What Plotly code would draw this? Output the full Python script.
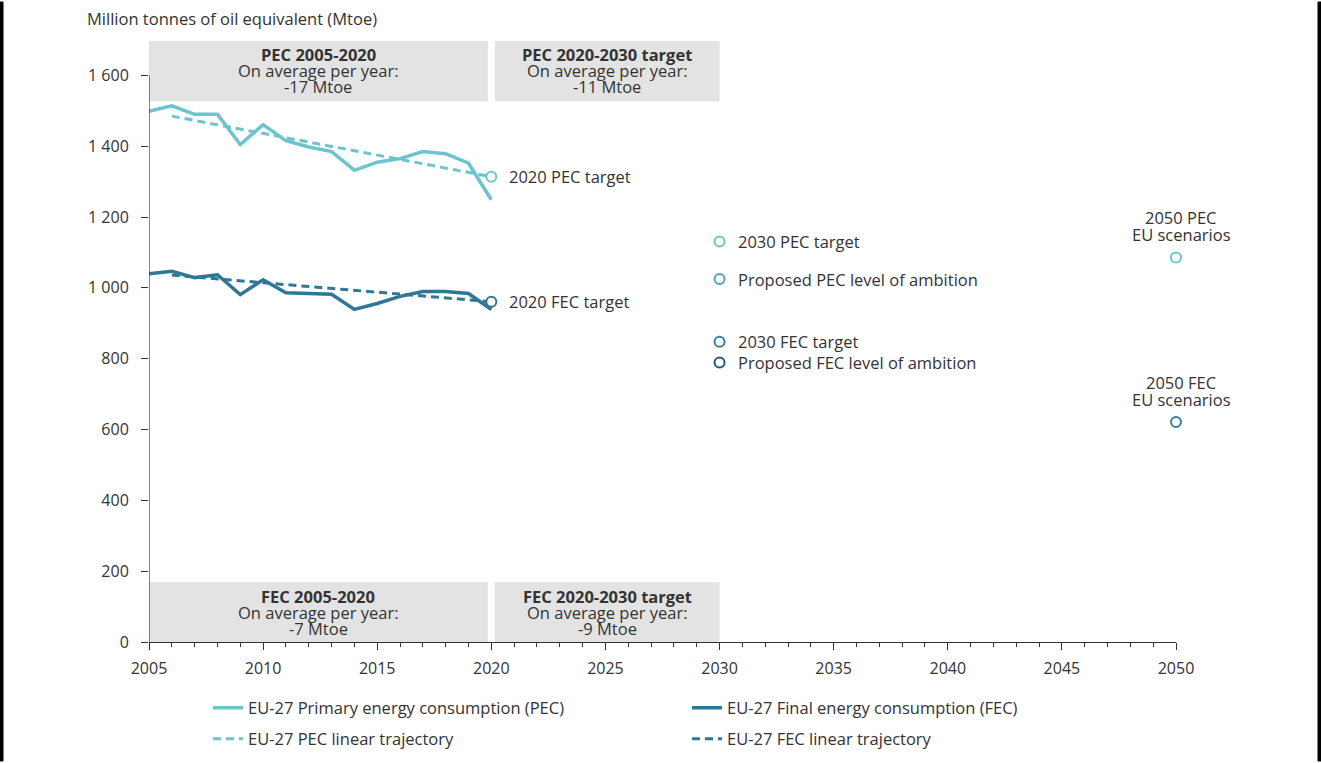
import plotly.graph_objects as go

# ---------------- data ----------------
years = list(range(2005, 2021))
pec_values = [1499, 1514, 1490, 1490, 1405, 1461, 1416, 1398, 1385, 1332, 1355, 1365, 1385, 1379, 1352, 1249]
fec_values = [1040, 1047, 1029, 1037, 981, 1023, 986, 984, 982, 939, 956, 976, 990, 990, 984, 939]

pec_traj_years = [2006, 2020]
pec_traj_values = [1485, 1314]
fec_traj_years = [2006, 2020]
fec_traj_values = [1036, 961]

target_names = ["2020 PEC target", "2020 FEC target", "2030 PEC target",
                "Proposed PEC level of ambition", "2030 FEC target",
                "Proposed FEC level of ambition"]
target_years = [2020, 2020, 2030, 2030, 2030, 2030]
target_values = [1314, 961, 1131, 1025, 848, 789]

scen_names = ["2050 PEC", "2050 FEC"]
scen_years = [2050, 2050]
scen_values = [1086, 621]

y_tick_vals = [0, 200, 400, 600, 800, 1000, 1200, 1400, 1600]
y_tick_text = ["0", "200", "400", "600", "800", "1 000", "1 200", "1 400", "1 600"]
x_tick_vals = [2005, 2010, 2015, 2020, 2025, 2030, 2035, 2040, 2045, 2050]

box_titles = ["PEC 2005-2020", "PEC 2020-2030 target", "FEC 2005-2020", "FEC 2020-2030 target"]
box_values = ["-17 Mtoe", "-11 Mtoe", "-7 Mtoe", "-9 Mtoe"]

# ---------------- style ----------------
C_PEC = "#6cc4cd"
C_FEC = "#2f7697"
C_PPEC = "#4fa3b6"
C_FEC30 = "#3a7ea2"
C_PFEC = "#1f5b7c"
TXT = "#333333"
FONT = "Open Sans"
FS = 16.5
TFS = 16

W, H = 1321, 763
ML, MR, MT, MB = 149, 145, 40, 121
PW, PH = W - ML - MR, H - MT - MB

target_colors = [C_PEC, C_FEC, C_PEC, C_PPEC, C_FEC30, C_PFEC]
scen_colors = [C_PEC, C_FEC30]

fig = go.Figure()

fig.add_trace(go.Scatter(x=years, y=pec_values, mode="lines",
                         line=dict(color=C_PEC, width=3.5), legend="legend",
                         name="EU-27 Primary energy consumption (PEC)"))
fig.add_trace(go.Scatter(x=years, y=fec_values, mode="lines",
                         line=dict(color=C_FEC, width=3.5), legend="legend",
                         name="EU-27 Final energy consumption (FEC)"))
fig.add_trace(go.Scatter(x=pec_traj_years, y=pec_traj_values, mode="lines",
                         line=dict(color=C_PEC, width=3, dash="8px,5px"), legend="legend2",
                         name="EU-27 PEC linear trajectory"))
fig.add_trace(go.Scatter(x=fec_traj_years, y=fec_traj_values, mode="lines",
                         line=dict(color=C_FEC, width=3, dash="8px,5px"), legend="legend2",
                         name="EU-27 FEC linear trajectory"))

fig.add_trace(go.Scatter(x=target_years, y=target_values, mode="markers",
                         marker=dict(symbol="circle", size=10, color="white",
                                     line=dict(color=target_colors, width=2)),
                         showlegend=False, cliponaxis=False, hoverinfo="skip"))
fig.add_trace(go.Scatter(x=scen_years, y=scen_values, mode="markers",
                         marker=dict(symbol="circle", size=10, color="white",
                                     line=dict(color=scen_colors, width=2)),
                         showlegend=False, cliponaxis=False, hoverinfo="skip"))

# labels for target markers
for name, xv, yv in zip(target_names, target_years, target_values):
    fig.add_annotation(x=xv, y=yv, text=name, showarrow=False, xanchor="left",
                       yanchor="middle", xshift=16, font=dict(family=FONT, size=FS, color=TXT))

# labels for 2050 scenarios
for name, xv, yv in zip(scen_names, scen_years, scen_values):
    fig.add_annotation(x=xv, y=yv, text=name, showarrow=False, xanchor="center",
                       yanchor="middle", xshift=5, yshift=40, font=dict(family=FONT, size=FS, color=TXT))
    fig.add_annotation(x=xv, y=yv, text="EU scenarios", showarrow=False, xanchor="center",
                       yanchor="middle", xshift=5, yshift=23, font=dict(family=FONT, size=FS, color=TXT))

# grey info boxes
box_x = [(2005, 2019.85), (2020.15, 2030), (2005, 2019.85), (2020.15, 2030)]
box_y = [(1527, 1697), (1527, 1697), (0, 169), (0, 169)]
line_y = [(1660, 1614, 1569), (1660, 1614, 1569), (128, 83, 38), (128, 83, 38)]
for (x0, x1), (y0, y1), ly, t, v in zip(box_x, box_y, line_y, box_titles, box_values):
    fig.add_shape(type="rect", x0=x0, x1=x1, y0=y0, y1=y1, xref="x", yref="y",
                  fillcolor="#e3e3e3", line=dict(width=0), layer="below")
    xc = (x0 + x1) / 2
    for txt, yy in zip(["<b>" + t + "</b>", "On average per year:", v], ly):
        fig.add_annotation(x=xc, y=yy, text=txt, showarrow=False, xanchor="center",
                           yanchor="middle", borderpad=0,
                           font=dict(family=FONT, size=FS, color=TXT))

# y axis line from 0 to 1600
fig.add_shape(type="line", x0=2005, x1=2005, y0=0, y1=1600, xref="x", yref="y",
              line=dict(color="#333333", width=1.2))

# outer black borders (left and right edges of the image), pixel-sized via paper refs
for px0, px1 in [(0, 3), (W - 3, W)]:
    fig.add_shape(type="rect", xref="paper", yref="paper",
                  x0=(px0 - ML) / PW, x1=(px1 - ML) / PW, y0=-(MB - 2) / PH, y1=1 + (MT - 2) / PH,
                  fillcolor="black", line=dict(color="black", width=1), layer="above")

fig.add_annotation(xref="paper", yref="paper", x=-64 / PW, y=1 + 22 / PH,
                   text="Million tonnes of oil equivalent (Mtoe)", showarrow=False,
                   xanchor="left", yanchor="middle", font=dict(family=FONT, size=FS, color=TXT))

legend_common = dict(orientation="h", x=208 / W, xref="container", yref="container",
                     xanchor="left", yanchor="middle",
                     entrywidth=434, entrywidthmode="pixels", traceorder="normal",
                     font=dict(family=FONT, size=FS, color=TXT), itemwidth=30,
                     bgcolor="rgba(0,0,0,0)")

fig.update_layout(
    width=W, height=H,
    margin=dict(l=ML, r=MR, t=MT, b=MB, autoexpand=False),
    paper_bgcolor="white", plot_bgcolor="white",
    font=dict(family=FONT, size=FS, color=TXT),
    showlegend=True,
    legend=dict(y=1 - 708 / H, **legend_common),
    legend2=dict(y=1 - 739 / H, **legend_common),
    xaxis=dict(range=[2005, 2050], tickvals=x_tick_vals, ticks="outside", ticklen=7,
               tickcolor="#333333", showline=True, linecolor="#333333", linewidth=1.2,
               showgrid=False, zeroline=False, ticklabelstandoff=5,
               minor=dict(dtick=1, ticks="outside", ticklen=4, tickcolor="#333333", showgrid=False),
               tickfont=dict(family=FONT, size=TFS, color=TXT)),
    yaxis=dict(range=[0, 1700], tickvals=y_tick_vals, ticktext=y_tick_text, ticks="outside",
               ticklen=7, tickcolor="#333333", showline=False, showgrid=False, zeroline=False,
               ticklabelstandoff=9,
               tickfont=dict(family=FONT, size=TFS, color=TXT)),
)

fig.write_html("out.html", config={"displayModeBar": False},
               post_script="document.body.style.margin='0';document.body.style.overflow='hidden';")
